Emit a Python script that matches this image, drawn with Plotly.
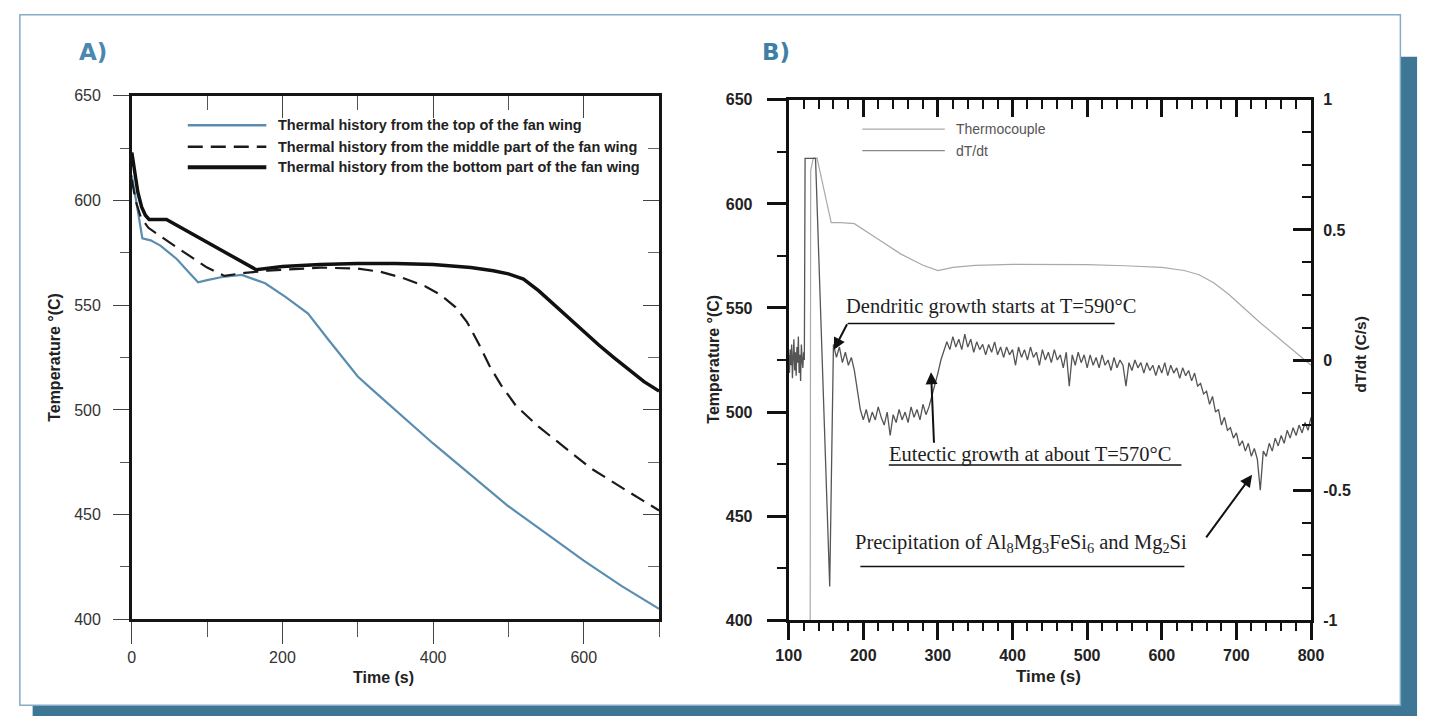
import plotly.graph_objects as go

W, H = 1434, 725


def px(x):
    return x / W


def py(y):
    return 1 - y / H


# ---------------- Panel A data (Temperature vs time) ----------------
top_t = [0, 3, 8, 14, 25, 38, 50, 60, 75, 88, 100, 120, 146, 177, 204, 234, 260,
         280, 300, 320, 350, 400, 450, 500, 550, 600, 650, 700]
top_T = [612, 605, 595, 582, 581, 578.5, 575, 572, 566, 561, 562, 563.5, 564.5, 560.5,
         554, 546, 534, 525, 516, 509.5, 500, 484, 469, 454, 441, 428, 416, 405]

mid_t = [0, 5, 12, 22, 50, 80, 100, 123, 150, 180, 200, 250, 300, 330, 360, 390, 410,
         430, 445, 460, 475, 490, 510, 540, 575, 610, 650, 700]
mid_T = [610, 600, 592, 587, 580, 573, 568, 564, 565.5, 566.5, 567, 568, 567.5, 566,
         563, 559, 555, 549, 542, 532, 521, 512, 502, 492, 482, 472, 463, 452]

bot_t = [0, 4, 8, 13, 18, 23, 46, 165, 200, 250, 300, 350, 400, 450, 480, 500, 520,
         540, 560, 580, 600, 620, 640, 660, 680, 700]
bot_T = [623, 612, 604, 597, 593, 591, 591, 567, 568.5, 569.5, 570, 570, 569.5, 568,
         566.5, 565, 562.5, 557, 550.5, 543.5, 537, 531, 525, 519, 513.5, 509]

legend_A = ["Thermal history from the top of the fan wing",
            "Thermal history from the middle part of the fan wing",
            "Thermal history from the bottom part of the fan wing"]

# ---------------- Panel B data ----------------
tc_t = [100, 128.5, 129.5, 133, 138, 157, 170, 188, 220, 250, 280, 300, 320, 350, 400,
        450, 500, 550, 600, 630, 650, 670, 690, 710, 730, 750, 770, 790, 800]
tc_T = [300, 300, 616, 622, 622, 591, 591, 590.5, 583, 576, 570.5, 568, 569.5, 570.5,
        571, 571, 570.8, 570.3, 569.5, 568, 566, 562, 556.5, 550, 543.5, 537.5, 531.5,
        525.5, 522.5]

pre_t = [100, 101, 102, 103, 104, 105, 106, 107, 108, 109, 110, 111, 112, 113, 114,
         115, 116, 117, 118, 119, 120]
pre_v = [0.02, -0.05, 0.04, -0.02, 0.06, -0.07, 0.01, 0.08, -0.04, 0.03, -0.06, 0.05,
         -0.01, 0.09, -0.05, 0.02, -0.08, 0.06, 0.0, -0.03, 0.03]
spike_t = [121, 122, 136, 155, 159]
spike_v = [0.0, 0.775, 0.775, -0.87, 0.06]
band_t = list(range(160, 801, 4))
band_v = [0.06, 0.01, 0.05, -0.01, 0.03, -0.02, 0.01, -0.04, -0.12, -0.19,
          -0.23, -0.19, -0.24, -0.2, -0.23, -0.18, -0.22, -0.25, -0.2, -0.29,
          -0.21, -0.24, -0.19, -0.23, -0.2, -0.24, -0.18, -0.22, -0.19, -0.23,
          -0.17, -0.21, -0.18, -0.14, -0.1, -0.05, 0.0, 0.04, 0.07, 0.04,
          0.09, 0.05, 0.08, 0.04, 0.1, 0.05, 0.08, 0.03, 0.07, 0.04,
          0.06, 0.02, 0.06, 0.03, 0.07, 0.02, 0.05, 0.01, 0.05, 0.02,
          0.04, -0.02, 0.05, 0.01, 0.04, 0.0, 0.05, 0.01, 0.03, -0.02,
          0.04, 0.0, 0.03, -0.01, 0.04, 0.0, 0.02, -0.03, 0.03, -0.1,
          0.02, -0.02, 0.03, -0.01, 0.02, -0.03, 0.02, -0.02, 0.01, -0.03,
          0.02, -0.02, 0.0, -0.04, 0.01, -0.03, 0.0, -0.02, -0.1, -0.01,
          -0.04, 0.0, -0.03, -0.01, -0.05, -0.01, -0.04, -0.02, -0.06, -0.02,
          -0.05, -0.01, -0.06, -0.02, -0.05, -0.03, -0.07, -0.03, -0.06, -0.04,
          -0.08, -0.05, -0.1, -0.09, -0.13, -0.12, -0.17, -0.14, -0.2, -0.19,
          -0.25, -0.22, -0.27, -0.26, -0.3, -0.28, -0.33, -0.31, -0.35, -0.32,
          -0.37, -0.34, -0.38, -0.5, -0.35, -0.37, -0.32, -0.35, -0.3, -0.33,
          -0.29, -0.32, -0.27, -0.3, -0.26, -0.29, -0.25, -0.28, -0.24, -0.27,
          -0.22]
dtdt_t = pre_t + spike_t + band_t
dtdt_v = pre_v + spike_v + band_v

right_tickvals = [-1, -0.5, 0, 0.5, 1]
right_ticktext = ["-1", "-0.5", "0", "0.5", "1"]
legend_B = ["Thermocouple", "dT/dt"]

# ---------------- styles ----------------
BLUE = "#5b8db1"
TEAL = "#3e7796"
SANS = "Liberation Sans, Arial, sans-serif"
SERIF = "Liberation Serif, Times New Roman, serif"
DASH = "15px,8px"

fig = go.Figure()
fig.add_trace(go.Scatter(x=top_t, y=top_T, mode="lines", xaxis="x", yaxis="y",
                         line=dict(color=BLUE, width=2.2), showlegend=False))
fig.add_trace(go.Scatter(x=mid_t, y=mid_T, mode="lines", xaxis="x", yaxis="y",
                         line=dict(color="#1a1a1a", width=2.2, dash=DASH), showlegend=False))
fig.add_trace(go.Scatter(x=bot_t, y=bot_T, mode="lines", xaxis="x", yaxis="y",
                         line=dict(color="#111111", width=3.5), showlegend=False))
fig.add_trace(go.Scatter(x=[None], y=[None], xaxis="x3", yaxis="y3", showlegend=False,
                         hoverinfo="skip"))
fig.add_trace(go.Scatter(x=tc_t, y=tc_T, mode="lines", xaxis="x2", yaxis="y2",
                         line=dict(color="#a9a9a9", width=1.2), showlegend=False))
fig.add_trace(go.Scatter(x=dtdt_t, y=dtdt_v, mode="lines", xaxis="x4", yaxis="y4",
                         line=dict(color="#555555", width=1.3), showlegend=False))

A_x = [px(121), px(658)]
A_y = [py(626), py(90)]
B_x = [px(790), px(1322)]
B_y = [py(627), py(94)]

fontA = dict(family=SANS, size=16, color="#333333")
fontB = dict(family=SANS, size=16, color="#222222", weight="bold")

layout = dict(
    width=W, height=H, autosize=False,
    margin=dict(l=0, r=0, t=0, b=0),
    paper_bgcolor="white", plot_bgcolor="rgba(0,0,0,0)",
    showlegend=False,
    xaxis=dict(domain=A_x, anchor="y", range=[0, 700], tickmode="linear", tick0=0, dtick=200,
               ticks="outside", ticklen=22, tickwidth=1, tickcolor="#444",
               minor=dict(tickmode="linear", tick0=0, dtick=100, ticks="outside", ticklen=15,
                          tickwidth=1, tickcolor="#555"),
               showline=True, linewidth=2.5, linecolor="#151515", showgrid=False,
               zeroline=False, tickfont=fontA, ticklabelstandoff=0),
    yaxis=dict(domain=A_y, anchor="x", range=[400, 650], tickmode="linear", tick0=400,
               dtick=50, ticks="outside", ticklen=16, tickwidth=1, tickcolor="#444",
               minor=dict(tickmode="linear", tick0=400, dtick=25, ticks="outside",
                          ticklen=9, tickwidth=1, tickcolor="#555"),
               showline=True, linewidth=2.5, linecolor="#151515", showgrid=False,
               zeroline=False, tickfont=fontA, ticklabelstandoff=9),
    xaxis3=dict(overlaying="x", side="top", anchor="y3", range=[0, 700], tickmode="linear",
                tick0=0, dtick=200, ticks="inside", ticklen=22, tickwidth=1,
                tickcolor="#444",
                minor=dict(tickmode="linear", tick0=0, dtick=100, ticks="inside",
                           ticklen=14, tickwidth=1, tickcolor="#555"),
                showticklabels=False, showline=True, linewidth=2.5, linecolor="#151515",
                showgrid=False, zeroline=False),
    yaxis3=dict(overlaying="y", side="right", anchor="x3", range=[400, 650],
                tickmode="linear", tick0=400, dtick=50, ticks="inside", ticklen=16,
                tickwidth=1, tickcolor="#444",
                minor=dict(tickmode="linear", tick0=400, dtick=25, ticks="inside",
                           ticklen=11, tickwidth=1, tickcolor="#666"),
                showticklabels=False, showline=True, linewidth=2.5, linecolor="#151515",
                showgrid=False, zeroline=False),
    xaxis2=dict(domain=B_x, anchor="y2", range=[100, 800], tickmode="linear", tick0=100,
                dtick=100, ticks="outside", ticklen=17, tickwidth=2.5, tickcolor="#111",
                minor=dict(tickmode="linear", tick0=100, dtick=20, ticks="outside",
                           ticklen=8, tickwidth=2.2, tickcolor="#111"),
                showline=True, linewidth=3, linecolor="#111", showgrid=False,
                zeroline=False, tickfont=fontB, ticklabelstandoff=2),
    yaxis2=dict(domain=B_y, anchor="x2", range=[400, 650], tickmode="linear", tick0=400,
                dtick=50, ticks="outside", ticklen=19, tickwidth=2.5, tickcolor="#111",
                minor=dict(tickmode="linear", tick0=400, dtick=25, ticks="outside",
                           ticklen=9, tickwidth=2.2, tickcolor="#111"),
                showline=True, linewidth=3, linecolor="#111", showgrid=False,
                zeroline=False, tickfont=fontB, ticklabelstandoff=11),
    xaxis4=dict(overlaying="x2", side="top", anchor="y4", range=[100, 800],
                tickmode="linear", tick0=100, dtick=100, ticks="inside", ticklen=17,
                tickwidth=2.5, tickcolor="#111",
                minor=dict(tickmode="linear", tick0=100, dtick=20, ticks="inside",
                           ticklen=9, tickwidth=2.2, tickcolor="#111"),
                showticklabels=False, showline=True, linewidth=3, linecolor="#111",
                showgrid=False, zeroline=False),
    yaxis4=dict(overlaying="y2", side="right", anchor="x4", range=[-1, 1],
                tickmode="array", tickvals=right_tickvals, ticktext=right_ticktext,
                ticks="inside", ticklen=18, tickwidth=2.5, tickcolor="#111",
                minor=dict(tickmode="linear", tick0=-1, dtick=0.125, ticks="inside",
                           ticklen=9, tickwidth=2.2, tickcolor="#111"),
                showline=True, linewidth=3, linecolor="#111", showgrid=False,
                zeroline=False, tickfont=fontB, ticklabelstandoff=6),
)
fig.update_layout(**layout)

shapes = []
# shadow + card
shapes.append(dict(type="rect", xref="paper", yref="paper", x0=px(20), x1=px(1430),
                   y0=py(725), y1=py(50), fillcolor=TEAL, line=dict(width=0), layer="below"))
shapes.append(dict(type="rect", xref="paper", yref="paper", x0=px(7), x1=px(1413),
                   y0=py(714), y1=py(7), fillcolor="white",
                   line=dict(color="#86abc6", width=1.5), layer="below"))
# legend A lines
legA_y = [120, 142, 163]
legA_style = [dict(color=BLUE, width=2.5), dict(color="#1a1a1a", width=2.5, dash=DASH),
              dict(color="#111111", width=4)]
for yy, st in zip(legA_y, legA_style):
    shapes.append(dict(type="line", xref="paper", yref="paper", x0=px(178), x1=px(258),
                       y0=py(yy), y1=py(yy), line=st))
# legend B lines
legB_y = [124, 146]
legB_col = ["#a9a9a9", "#8a8a8a"]
for yy, c in zip(legB_y, legB_col):
    shapes.append(dict(type="line", xref="paper", yref="paper", x0=px(865), x1=px(949),
                       y0=py(yy), y1=py(yy), line=dict(color=c, width=1.2)))
# underlines of B annotations
for x0, x1, yy in [(850, 1122, 323), (892, 1190, 468), (863, 1193, 572)]:
    shapes.append(dict(type="line", xref="paper", yref="paper", x0=px(x0), x1=px(x1),
                       y0=py(yy), y1=py(yy), line=dict(color="#111", width=1.5)))
fig.update_layout(shapes=shapes)


def label(text, x, y, font, xanchor="center", angle=0):
    return dict(text=text, x=px(x), y=py(y), xref="paper", yref="paper",
                xanchor=xanchor, yanchor="middle", textangle=angle,
                showarrow=False, font=font)


ann = []
ann.append(label("A)", 81, 45, dict(family="DejaVu Sans", size=23, color="#4b87ae",
                                   weight="bold")))
ann.append(label("B)", 777, 45, dict(family="DejaVu Sans", size=23, color="#3f7fa6",
                                    weight="bold")))
titleA = dict(family=SANS, size=16, color="#222", weight="bold")
ann.append(label("Temperature °(C)", 42, 358, titleA, angle=-90))
ann.append(label("Time (s)", 377, 686, dict(family=SANS, size=16, color="#222",
                                           weight="bold")))
ann.append(label("Temperature °(C)", 713, 360, titleA, angle=-90))
ann.append(label("dT/dt (C/s)", 1373, 355, dict(family=SANS, size=15.5, color="#222",
                                               weight="bold"), angle=-90))
ann.append(label("Time (s)", 1055, 685, dict(family=SANS, size=17, color="#222",
                                            weight="bold")))
for yy, txt in zip(legA_y, legend_A):
    ann.append(label(txt, 268, yy, dict(family=SANS, size=14.5, color="#222",
                                        weight="bold"), xanchor="left"))
for yy, txt in zip(legB_y, legend_B):
    ann.append(label(txt, 958, yy, dict(family=SANS, size=14, color="#555"),
                     xanchor="left"))
serif = dict(family=SERIF, size=20.5, color="#1e1e1e")
ann.append(label("Dendritic growth starts at T=590°C", 846, 306, serif, xanchor="left"))
ann.append(label("Eutectic growth at about T=570°C", 890, 457, serif, xanchor="left"))
ann.append(label("Precipitation of Al<sub>8</sub>Mg<sub>3</sub>FeSi<sub>6</sub> and "
                 "Mg<sub>2</sub>Si", 856, 548, serif, xanchor="left"))
for (hx, hy, tx, ty) in [(836, 350, 850, 323), (935, 373, 938, 445), (1262, 478, 1215, 542)]:
    ann.append(dict(text="", x=px(hx), y=py(hy), xref="paper", yref="paper",
                    ax=tx - hx, ay=ty - hy, showarrow=True, arrowhead=2, arrowsize=1.2,
                    arrowwidth=2, arrowcolor="#111"))
fig.update_layout(annotations=ann)

fig.write_html("out.html")
